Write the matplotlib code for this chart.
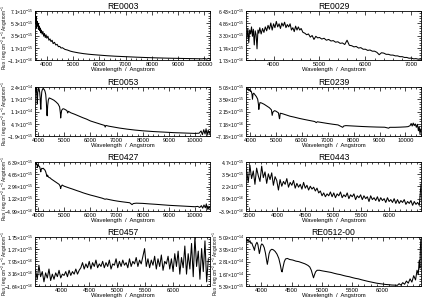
import numpy as np
import matplotlib
matplotlib.use("Agg")
import matplotlib.pyplot as plt
from matplotlib.ticker import AutoMinorLocator

plt.rcParams['font.family'] = ['Liberation Sans', 'DejaVu Sans']
plt.rcParams['mathtext.fontset'] = 'custom'
plt.rcParams['mathtext.rm'] = 'Liberation Sans'
plt.rcParams['mathtext.it'] = 'Liberation Sans:italic'
plt.rcParams['mathtext.bf'] = 'Liberation Sans:bold'

# ---------------- data (flux in units of `scale`) ----------------
re0003 = [(3560, 6.8), (3575, 7.1), (3590, 5.2), (3605, 6.3), (3620, 4.6), (3640, 5.6),
          (3660, 4.9), (3680, 5.3), (3700, 4.4), (3720, 4.9), (3740, 4.2), (3760, 4.6),
          (3780, 3.9), (3800, 4.3), (3830, 3.7), (3860, 4.1), (3890, 3.4), (3920, 3.8),
          (3950, 3.2), (3980, 3.6), (4010, 3.1), (4050, 3.4), (4090, 2.8), (4130, 3.0),
          (4170, 2.6), (4210, 2.8), (4250, 2.3), (4300, 2.5), (4350, 2.1), (4400, 2.2),
          (4450, 1.85), (4500, 1.9), (4550, 1.65), (4600, 1.7), (4700, 1.45), (4800, 1.35),
          (4900, 1.2), (5000, 1.1), (5200, 0.95), (5400, 0.83), (5600, 0.74), (5800, 0.67),
          (6000, 0.61), (6300, 0.52), (6600, 0.45), (7000, 0.38), (7400, 0.31), (7800, 0.25),
          (8200, 0.2), (8600, 0.16), (9000, 0.13), (9400, 0.1), (9700, 0.08), (9900, 0.06),
          (10000, 0.11), (10080, 0.02), (10150, 0.13), (10205, 0.04)]

re0029 = [(3420, 3.0), (3440, 4.2), (3460, 2.4), (3480, 4.0), (3500, 3.5), (3520, 4.4),
          (3540, 3.2), (3560, 4.1), (3580, 2.1), (3600, 3.9), (3620, 3.4), (3640, 1.6),
          (3660, 4.0), (3680, 3.6), (3700, 4.3), (3730, 3.5), (3760, 4.2), (3790, 3.7),
          (3820, 4.4), (3850, 3.9), (3880, 4.6), (3910, 4.1), (3940, 4.9), (3970, 4.0),
          (4000, 4.8), (4030, 4.3), (4060, 5.1), (4090, 4.4), (4120, 4.8), (4150, 4.2),
          (4180, 4.9), (4210, 4.5), (4240, 5.0), (4270, 4.3), (4300, 4.7), (4330, 4.4),
          (4360, 4.8), (4390, 4.0), (4420, 4.3), (4450, 3.8), (4480, 4.5), (4510, 4.0),
          (4540, 4.4), (4570, 4.0), (4600, 4.2), (4640, 3.7), (4680, 3.6), (4720, 3.4),
          (4760, 3.5), (4800, 3.1), (4840, 3.3), (4880, 2.8), (4920, 3.2), (4960, 3.0),
          (5000, 3.05), (5050, 2.85), (5100, 2.95), (5150, 2.7), (5200, 2.8), (5250, 2.6),
          (5300, 2.65), (5350, 2.45), (5400, 2.5), (5450, 2.3), (5500, 2.35), (5550, 2.15),
          (5600, 2.7), (5650, 2.05), (5700, 2.0), (5750, 1.85), (5800, 1.9), (5850, 1.7),
          (5900, 1.75), (5950, 1.55), (6000, 1.55), (6050, 1.4), (6100, 1.45), (6150, 1.3),
          (6200, 1.3), (6250, 1.15), (6300, 0.85), (6350, 1.1), (6400, 1.05), (6450, 0.9),
          (6500, 0.9), (6550, 0.8), (6600, 0.8), (6650, 0.7), (6700, 0.7), (6750, 0.6),
          (6800, 0.6), (6850, 0.5), (6900, 0.5), (6950, 0.4), (7000, 0.42), (7050, 0.32),
          (7100, 0.35), (7150, 0.28), (7200, 0.3)]

re0053 = [(3885, 22.0), (3900, 23.8), (3915, 22.5), (3930, 24.2), (3945, 21.0), (3960, 17.0),
          (3970, 15.5), (3985, 21.5), (4000, 23.6), (4020, 24.0), (4040, 23.2), (4060, 21.5),
          (4080, 18.0), (4095, 13.0), (4105, 12.5), (4120, 18.5), (4140, 22.0), (4170, 23.5),
          (4200, 23.6), (4230, 23.2), (4260, 22.3), (4290, 20.5), (4315, 16.0), (4335, 9.5),
          (4345, 9.0), (4365, 14.5), (4390, 17.5), (4420, 18.6), (4460, 18.4), (4520, 18.0),
          (4600, 17.4), (4680, 16.5), (4760, 15.4), (4820, 13.8), (4850, 10.5), (4862, 7.8),
          (4875, 9.5), (4900, 12.0), (4950, 12.8), (5000, 12.6), (5050, 12.2), (5100, 11.8),
          (5130, 10.5), (5160, 11.4), (5250, 10.6), (5400, 9.8), (5550, 8.9), (5700, 8.0),
          (5850, 7.2), (6000, 6.2), (6200, 5.3), (6400, 4.4), (6540, 3.8), (6563, 2.9),
          (6590, 3.8), (6700, 3.4), (6900, 2.9), (7100, 2.4), (7400, 1.8), (7700, 1.3),
          (8000, 0.9), (8400, 0.5), (8800, 0.2), (9200, -0.1), (9600, -0.3), (10000, -0.5),
          (10150, -0.4), (10230, 0.8), (10280, -1.2), (10330, 1.5), (10380, -0.8),
          (10420, 2.0), (10460, -1.5), (10500, 1.2), (10540, -0.6), (10565, 0.5)]

re0239 = [(3870, 4.9), (3900, 4.7), (3930, 4.85), (3960, 4.6), (3990, 4.75), (4020, 4.5),
          (4050, 4.55), (4080, 4.2), (4100, 3.6), (4120, 4.2), (4150, 4.3), (4200, 4.1),
          (4250, 3.9), (4300, 3.6), (4330, 3.0), (4345, 2.4), (4360, 2.8), (4390, 3.2),
          (4450, 3.15), (4550, 3.0), (4650, 2.8), (4750, 2.6), (4830, 2.35), (4860, 1.7),
          (4890, 2.1), (4950, 2.25), (5000, 2.2), (5050, 2.1), (5100, 2.0), (5140, 1.3),
          (5150, 1.35), (5170, 1.95), (5250, 1.9), (5400, 1.75), (5550, 1.6), (5700, 1.5),
          (5900, 1.35), (6100, 1.22), (6300, 1.1), (6500, 0.98), (6560, 0.85), (6600, 0.95),
          (6800, 0.85), (7000, 0.75), (7200, 0.66), (7400, 0.58), (7580, 0.3), (7620, 0.45),
          (7700, 0.5), (8000, 0.45), (8300, 0.4), (8600, 0.36), (8900, 0.33), (9200, 0.31),
          (9350, 0.2), (9400, 0.3), (9600, 0.3), (9800, 0.32), (10000, 0.35), (10100, 0.38),
          (10180, 0.5), (10220, 0.75), (10260, 0.45), (10300, 0.8), (10340, 0.5),
          (10380, 0.7), (10420, 0.3), (10460, 0.65), (10500, -0.1), (10530, 0.4),
          (10560, -0.45), (10595, 0.1)]

re0427 = [(3885, 6.2), (3900, 6.3), (3920, 6.05), (3940, 6.2), (3960, 5.95), (3970, 5.6),
          (3985, 5.95), (4000, 6.0), (4030, 5.8), (4060, 5.7), (4085, 5.3), (4101, 5.0),
          (4115, 5.3), (4140, 5.5), (4170, 5.45), (4200, 5.5), (4230, 5.35), (4260, 5.25),
          (4290, 5.0), (4320, 4.6), (4340, 4.35), (4360, 4.55), (4390, 4.3), (4420, 4.2),
          (4460, 4.15), (4500, 4.0), (4560, 3.85), (4620, 3.7), (4680, 3.55), (4740, 3.4),
          (4800, 3.25), (4840, 3.0), (4861, 2.65), (4880, 2.95), (4920, 3.15), (4960, 3.05),
          (5000, 2.98), (5100, 2.85), (5200, 2.72), (5300, 2.6), (5400, 2.47), (5500, 2.34),
          (5600, 2.22), (5700, 2.08), (5800, 1.96), (5900, 1.85), (6000, 1.74), (6150, 1.6),
          (6300, 1.45), (6450, 1.3), (6560, 1.15), (6600, 1.2), (6750, 1.08), (6900, 0.97),
          (7050, 0.88), (7200, 0.8), (7350, 0.73), (7500, 0.66), (7590, 0.4), (7640, 0.55),
          (7750, 0.6), (8000, 0.57), (8250, 0.5), (8500, 0.44), (8750, 0.37), (9000, 0.3),
          (9250, 0.25), (9500, 0.2), (9750, 0.15), (10000, 0.1), (10100, 0.15), (10180, 0.0),
          (10240, 0.25), (10290, -0.1), (10340, 0.35), (10390, -0.05), (10430, 0.5),
          (10460, -0.3), (10490, 0.2), (10520, -0.2), (10550, 0.1), (10570, -0.05)]

# noisy spectra sampled every 30 Angstrom
w0443 = np.arange(3450, 6571, 30)
f0443 = [3.9, 2.6, 4.4, 3.0, 3.8, 2.4, 4.1, 3.3, 2.7, 4.3,
         3.1, 3.7, 2.5, 3.5, 2.9, 3.6, 2.3, 3.2, 2.8, 1.8,
         2.9, 2.2, 2.7, 2.4, 3.0, 2.1, 2.6, 2.3, 2.8, 2.0,
         2.5, 2.1, 2.4, 1.9, 2.6, 2.0, 2.3, 1.8, 2.2, 1.9,
         2.1, 1.7, 2.0, 1.5, 1.7, 1.2, 1.5, 1.1, 1.4, 1.2,
         1.6, 1.1, 1.5, 1.0, 1.4, 1.2, 1.6, 1.0, 1.3, 1.1,
         1.5, 0.9, 1.3, 1.1, 1.4, 0.8, 1.2, 1.0, 1.3, 0.8,
         1.2, 0.9, 1.1, 0.6, 1.2, 0.8, 1.0, 0.7, 1.1, 0.6,
         1.0, 0.7, 0.9, 0.5, 1.0, 0.6, 0.8, 0.5, 0.9, 0.4,
         0.8, 0.4, 0.7, 0.5, 0.8, 0.3, 0.6, 0.4, 0.7, 0.2,
         0.6, 0.3, 0.5, 0.2, 2.4]

w0457 = np.arange(3540, 6660, 30)
f0457 = [0.45, 0.1, 0.65, 0.2, 0.4, 0.0, 0.35, 0.15, 0.5, 0.05,
         0.3, 0.1, 0.35, 0.2, 0.45, 0.15, 0.3, 0.25, 0.4, 0.2,
         0.45, 0.25, 0.4, 0.3, 0.5, 0.3, 0.45, 0.55, 0.75, 0.5,
         0.7, 0.55, 0.8, 0.5, 0.75, 0.6, 0.85, 0.55, 0.7, 0.6,
         0.8, 0.55, 0.75, 0.6, 0.85, 0.5, 0.7, 0.65, 0.9, 0.55,
         0.8, 0.6, 0.85, 0.65, 0.75, 0.55, 0.9, 0.6, 0.8, 0.7,
         0.95, 0.6, 0.85, 0.7, 1.0, 1.3, 0.6, 0.9, 0.55, 0.85,
         0.65, 1.0, 0.5, 0.9, 0.6, 1.05, 0.45, 0.8, 0.7, 1.0,
         0.5, 0.9, 0.4, 1.1, 0.6, 1.2, 0.3, 0.95, 0.55, 1.4,
         0.3, 1.1, 0.5, 1.5, 0.2, 1.75, 0.6, 1.2, 0.1, 1.3,
         0.4, 1.6, 0.0, 0.9]

re0512 = [(3755, 4.9), (3770, 4.7), (3785, 4.85), (3800, 4.6), (3815, 4.75), (3830, 4.5),
          (3845, 4.55), (3860, 4.3), (3875, 4.1), (3889, 3.85), (3900, 4.2), (3915, 4.45),
          (3930, 4.6), (3945, 4.4), (3960, 3.9), (3970, 3.55), (3980, 3.8), (3995, 4.3),
          (4010, 4.45), (4030, 4.35), (4050, 4.1), (4070, 3.6), (4090, 2.9), (4101, 2.55),
          (4112, 2.9), (4130, 3.55), (4150, 3.85), (4175, 3.95), (4200, 3.9), (4230, 3.75),
          (4260, 3.5), (4290, 3.1), (4315, 2.5), (4335, 1.9), (4345, 1.85), (4360, 2.3),
          (4380, 2.8), (4400, 3.05), (4430, 3.1), (4470, 3.0), (4520, 2.95), (4570, 2.85),
          (4620, 2.8), (4670, 2.7), (4720, 2.6), (4770, 2.45), (4800, 2.3), (4825, 2.0),
          (4845, 1.6), (4861, 1.3), (4875, 1.55), (4895, 1.85), (4920, 2.0), (4960, 2.0),
          (5000, 1.95), (5050, 1.9), (5100, 1.85), (5150, 1.8), (5200, 1.72), (5250, 1.65),
          (5300, 1.6), (5350, 1.52), (5400, 1.45), (5450, 1.4), (5500, 1.32), (5550, 1.25),
          (5600, 1.2), (5650, 1.12), (5700, 1.05), (5750, 0.98), (5800, 0.92), (5850, 0.86),
          (5900, 0.8), (5950, 0.76), (6000, 0.72), (6050, 0.68), (6100, 0.66), (6150, 0.63),
          (6200, 0.62), (6240, 0.6), (6270, 0.75), (6300, 0.62), (6330, 0.85), (6360, 0.7),
          (6390, 1.0), (6420, 0.8), (6450, 1.2), (6480, 0.9), (6510, 1.5), (6540, 1.1),
          (6565, 2.0), (6585, 1.6), (6600, 2.9), (6612, 2.2), (6620, 4.0), (6628, 4.9)]

# x limits / ticks, y tick positions (in `scale` units) and their labels
panels = [
    dict(name="RE0003", data=re0003, scale=1e-15, xlim=(3560, 10210), xticks=[4000, 5000, 6000, 7000, 8000, 9000, 10000],
         yt=[-0.11, 1.695, 3.5, 5.305, 7.11], ylabels=["-1.1e-16", "1.7e-15", "3.5e-15", "5.3e-15", "7.1e-15"]),
    dict(name="RE0029", data=re0029, scale=1e-15, xlim=(3400, 7210), xticks=[4000, 5000, 6000, 7000],
         yt=[0.173, 1.738, 3.303, 4.868, 6.433], ylabels=["1.73e-16", "1.74e-15", "3.30e-15", "4.86e-15", "6.43e-15"]),
    dict(name="RE0053", data=re0053, scale=1e-15, xlim=(3880, 10570), xticks=[4000, 5000, 6000, 7000, 8000, 9000, 10000],
         yt=[-1.9, 4.7, 11.3, 17.9, 24.5], ylabels=["-1.9e-15", "4.7e-15", "1.1e-14", "1.7e-14", "2.4e-14"]),
    dict(name="RE0239", data=re0239, scale=1e-15, xlim=(3850, 10600), xticks=[4000, 5000, 6000, 7000, 8000, 9000, 10000],
         yt=[-0.718, 0.718, 2.154, 3.59, 5.026], ylabels=["-7.18e-16", "7.18e-16", "2.15e-15", "3.59e-15", "5.03e-15"]),
    dict(name="RE0427", data=re0427, scale=1e-15, xlim=(3880, 10570), xticks=[4000, 5000, 6000, 7000, 8000, 9000, 10000],
         yt=[-0.499, 1.222, 2.943, 4.664, 6.385], ylabels=["-4.99e-16", "1.22e-15", "2.94e-15", "4.66e-15", "6.39e-15"]),
    dict(name="RE0443", data=list(zip(w0443, f0443)), scale=1e-15, xlim=(3440, 6570), xticks=[3500, 4000, 4500, 5000, 5500, 6000],
         yt=[-0.394, 0.889, 2.172, 3.455, 4.738], ylabels=["-3.9e-16", "8.9e-16", "2.2e-15", "3.5e-15", "4.7e-15"]),
    dict(name="RE0457", data=list(zip(w0457, f0457)), scale=1e-15, xlim=(3530, 6660), xticks=[4000, 4500, 5000, 5500, 6000],
         yt=[-0.164, 0.316, 0.795, 1.274, 1.753], ylabels=["-1.64e-16", "3.16e-16", "7.95e-16", "1.27e-15", "1.75e-15"]),
    dict(name="RE0512-00", data=re0512, scale=1e-14, xlim=(3750, 6630), xticks=[4000, 4500, 5000, 5500, 6000],
         yt=[0.539, 1.677, 2.815, 3.953, 5.091], ylabels=["5.39e-15", "1.67e-14", "2.81e-14", "3.95e-14", "5.09e-14"]),
]


def sci(s):
    mant, exp = s.split("e")
    return r"$%s{\times}10^{%d}$" % (mant, int(exp))


W, H = 427, 305
fig = plt.figure(figsize=(W / 100, H / 100), dpi=100)
fig.patch.set_facecolor("white")

col_x = [35, 246]
ax_w = 175
row_top = [11, 87, 162, 237]
ax_h = 49
ylab = r"Flux / erg cm$^{-2}$ s$^{-1}$ Angstrom$^{-1}$"

for i, p in enumerate(panels):
    r, c = divmod(i, 2)
    left = col_x[c] / W
    bottom = 1 - (row_top[r] + ax_h) / H
    ax = fig.add_axes([left, bottom, ax_w / W, ax_h / H])
    w = [d[0] for d in p["data"]]
    f = [d[1] * p["scale"] for d in p["data"]]
    ax.plot(w, f, color="black", lw=0.75)
    ax.set_xlim(*p["xlim"])
    ax.set_ylim(p["yt"][0] * p["scale"], p["yt"][-1] * p["scale"])
    ax.set_xticks(p["xticks"])
    ax.set_xticklabels([str(t) for t in p["xticks"]])
    ax.set_yticks([v * p["scale"] for v in p["yt"]])
    ax.set_yticklabels([sci(s) for s in p["ylabels"]])
    ax.xaxis.set_minor_locator(AutoMinorLocator(5))
    ax.yaxis.set_minor_locator(AutoMinorLocator(5))
    ax.tick_params(which="both", direction="in", top=True, right=True, width=0.5, pad=1.2)
    ax.tick_params(axis="x", labelsize=4.2)
    ax.tick_params(axis="y", labelsize=3.6)
    ax.tick_params(which="major", length=3)
    ax.tick_params(which="minor", length=1.5)
    for s in ax.spines.values():
        s.set_linewidth(0.6)
    ax.set_title(p["name"], fontsize=6.2, pad=1.5)
    ax.set_xlabel("Wavelength  /  Angstrom", fontsize=4.2, labelpad=0.5)
    yc = 1 - (row_top[r] + ax_h / 2 + 2) / H
    if c == 0:
        fig.text(4.5 / W, yc, ylab, rotation=90, fontsize=3.3, ha="center", va="center")
    elif r == 3:
        fig.text(215.5 / W, yc, ylab, rotation=90, fontsize=3.3, ha="center", va="center")

fig.savefig("out.png", dpi=100)
